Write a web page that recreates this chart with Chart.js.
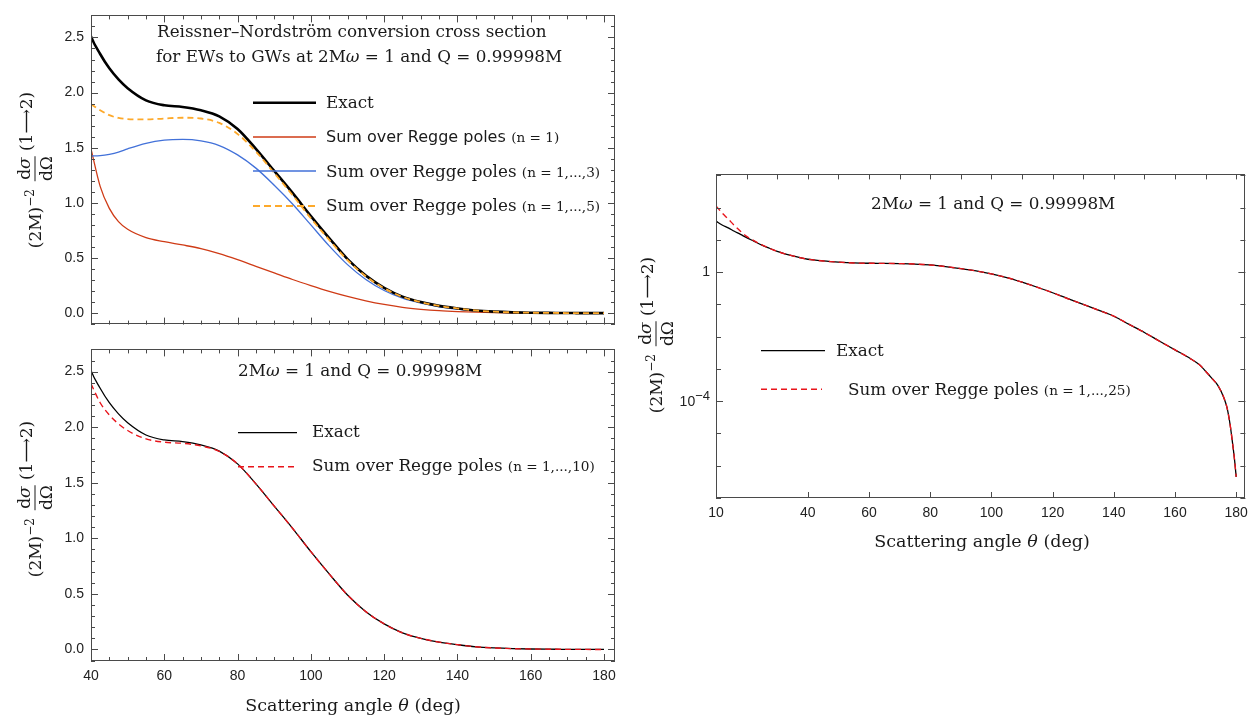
<!DOCTYPE html>
<html><head><meta charset="utf-8">
<script src="https://cdn.jsdelivr.net/npm/chart.js@4.4.1/dist/chart.umd.min.js"></script>
<style>
html,body{margin:0;padding:0;background:#fff;}
#root{position:relative;width:1255px;height:717px;overflow:hidden;background:#fff;}
canvas{position:absolute;}
.t{position:absolute;white-space:nowrap;font-family:"DejaVu Serif",serif;color:#1a1a1a;line-height:1;font-size:16.8px;}
.s{font-family:"DejaVu Sans",sans-serif;font-size:16px;}
.sm{font-size:13.6px;}
.c{transform:translateX(-50%);}
.tk{position:absolute;white-space:nowrap;font-family:"Liberation Sans",Arial,sans-serif;font-size:14px;color:#222;line-height:1;transform:translateX(-100%);}
.tk sup{font-size:13px;position:relative;top:-6px;vertical-align:baseline;}
.yl{position:absolute;display:flex;align-items:center;white-space:nowrap;font-family:"DejaVu Serif",serif;font-size:17px;color:#1a1a1a;transform:translate(-50%,-50%) rotate(-90deg);line-height:1;}
.yl sup{font-size:12px;position:relative;top:-7px;vertical-align:baseline;}
.frac{display:inline-flex;flex-direction:column;align-items:center;margin:0 5px 0 8px;}
.frac .n{border-bottom:1px solid #1a1a1a;padding:0 1px 2px;}
.frac .d{padding-top:2px;}
.yl .r{position:relative;top:-9px;}
svg{position:absolute;left:0;top:0;}
</style></head>
<body><div id="root">
<canvas id="c1" width="630" height="340" style="left:0;top:0"></canvas>
<canvas id="c2" width="630" height="383" style="left:0;top:334px"></canvas>
<canvas id="c3" width="625" height="400" style="left:630px;top:160px"></canvas>

<div class="t" style="left:157px;top:23px">Reissner–Nordström conversion cross section</div>
<div class="t" style="left:156px;top:48px">for EWs to GWs at 2M<i>ω</i> = 1 and Q = 0.99998M</div>
<div class="t" style="left:326px;top:94px">Exact</div>
<div class="t" style="left:326px;top:128px"><span class="s">Sum over Regge poles</span> <span class="sm">(n = 1)</span></div>
<div class="t" style="left:326px;top:163px">Sum over Regge poles <span class="sm">(n = 1,...,3)</span></div>
<div class="t" style="left:326px;top:197px">Sum over Regge poles <span class="sm">(n = 1,...,5)</span></div>

<div class="t" style="left:238px;top:362px">2M<i>ω</i> = 1 and Q = 0.99998M</div>
<div class="t" style="left:312px;top:423px">Exact</div>
<div class="t" style="left:312px;top:457px">Sum over Regge poles <span class="sm">(n = 1,...,10)</span></div>

<div class="t" style="left:871px;top:195px">2M<i>ω</i> = 1 and Q = 0.99998M</div>
<div class="t" style="left:836px;top:342px">Exact</div>
<div class="t" style="left:848px;top:381px">Sum over Regge poles <span class="sm">(n = 1,...,25)</span></div>

<div class="t c" style="left:353px;top:697px;font-size:17.5px">Scattering angle <i>θ</i> (deg)</div>
<div class="t c" style="left:982px;top:533px;font-size:17.5px">Scattering angle <i>θ</i> (deg)</div>

<div class="tk" id="lab1e4" style="left:710px;top:393px">10<sup>−4</sup></div>

<div class="yl" style="left:35px;top:170px"><span>(2M)<sup>−2</sup></span><span class="frac"><span class="n">d<i>σ</i></span><span class="d">dΩ</span></span><span class="r">(1⟶2)</span></div>
<div class="yl" style="left:35px;top:499px"><span>(2M)<sup>−2</sup></span><span class="frac"><span class="n">d<i>σ</i></span><span class="d">dΩ</span></span><span class="r">(1⟶2)</span></div>
<div class="yl" style="left:656px;top:335px"><span>(2M)<sup>−2</sup></span><span class="frac"><span class="n">d<i>σ</i></span><span class="d">dΩ</span></span><span class="r">(1⟶2)</span></div>

<svg width="1255" height="717">
<line x1="253" y1="102.7" x2="316" y2="102.7" stroke="#000" stroke-width="2.6"/>
<line x1="253" y1="137" x2="316" y2="137" stroke="#cf3b16" stroke-width="1.3"/>
<line x1="253" y1="171" x2="316" y2="171" stroke="#4271d9" stroke-width="1.3"/>
<line x1="253" y1="206" x2="316" y2="206" stroke="#fda92b" stroke-width="2" stroke-dasharray="7,4"/>
<line x1="238" y1="432.7" x2="297" y2="432.7" stroke="#000" stroke-width="1.3"/>
<line x1="238" y1="466.7" x2="297" y2="466.7" stroke="#e8141b" stroke-width="1.4" stroke-dasharray="6,4"/>
<line x1="761" y1="350.7" x2="825" y2="350.7" stroke="#000" stroke-width="1.3"/>
<line x1="761" y1="389.3" x2="822" y2="389.3" stroke="#e8141b" stroke-width="1.4" stroke-dasharray="6,4"/>
</svg>
</div>
<script>
// ---------- data ----------
const thetaExact = [10,12,14,16,18,20,22.5,25,27.5,30,32.5,35,37.5,40,42.5,45,47.5,50,55,60,65,70,75,80,85,90,95,100,105,110,115,120,125,130,135,140,145,150,155,160,165,168,170,172,174,176,177,178,179,179.5,180];
const exact = [38,29,23.5,18.5,14.8,11.7,9.0,6.9,5.5,4.4,3.7,3.2,2.8,2.51,2.35,2.22,2.12,2.04,1.93,1.885,1.87,1.84,1.785,1.67,1.49,1.29,1.09,0.88,0.68,0.49,0.34,0.23,0.15,0.1,0.066,0.043,0.024,0.0135,0.0072,0.0039,0.0021,0.00134,0.00085,0.00052,0.00031,0.000126,0.000063,0.000019,0.0000036,0.0000014,0.00000045];
const regge25 = [112,68,44,28,18.5,12.8,9.3,6.95,5.5,4.4,3.7,3.2,2.8,2.51,2.35,2.22,2.12,2.04,1.93,1.885,1.87,1.84,1.785,1.67,1.49,1.29,1.09,0.88,0.68,0.49,0.34,0.23,0.15,0.1,0.066,0.043,0.024,0.0135,0.0072,0.0039,0.0021,0.00134,0.00085,0.00052,0.00031,0.000126,0.000063,0.000019,0.0000036,0.0000014,0.00000045];

const thetaLin = [40,42.5,45,47.5,50,55,60,65,70,75,80,85,90,95,100,105,110,115,120,125,130,135,140,145,150,155,160,165,170,175,180];
const regge1  = [1.49,1.15,0.95,0.83,0.76,0.685,0.648,0.618,0.585,0.54,0.485,0.425,0.365,0.305,0.25,0.198,0.152,0.112,0.079,0.053,0.035,0.022,0.014,0.009,0.0055,0.0035,0.0022,0.0013,0.0007,0.0003,0.00001];
const regge3  = [1.425,1.428,1.44,1.46,1.49,1.54,1.568,1.575,1.562,1.52,1.435,1.315,1.16,0.99,0.80,0.61,0.44,0.305,0.205,0.135,0.09,0.058,0.037,0.022,0.013,0.007,0.0039,0.0021,0.00085,0.0002,0.0000005];
const regge5  = [1.895,1.84,1.795,1.77,1.76,1.757,1.765,1.772,1.765,1.725,1.625,1.465,1.27,1.07,0.86,0.665,0.48,0.335,0.225,0.148,0.099,0.065,0.043,0.024,0.0135,0.0072,0.0039,0.0021,0.00085,0.0002,0.0000005];
const regge10 = [2.39,2.22,2.11,2.03,1.97,1.895,1.865,1.855,1.832,1.782,1.67,1.49,1.29,1.09,0.88,0.68,0.49,0.34,0.23,0.15,0.1,0.066,0.043,0.024,0.0135,0.0072,0.0039,0.0021,0.00085,0.0002,0.00000045];

const xTicksLin = [40,60,80,100,120,140,160,180];
const yTicksLin = [0,0.5,1,1.5,2,2.5];
const xTicksLog = [10,40,60,80,100,120,140,160,180];
const yTicksLog = [1e-7,1e-6,1e-5,1e-4,1e-3,1e-2,1e-1,1,1e1,1e2,1e3];
const yLabelsLog = {"0":"1"};   // 10^-4 label is placed as HTML text (needs a superscript)

// ---------- helpers ----------
const pts = (xs, ys) => xs.map((x, i) => ({x, y: ys[i]}));
const range = (a, b, s) => { const r = []; for (let v = a; v <= b + 1e-9; v += s) r.push(+v.toFixed(6)); return r; };

const framePlugin = {
  id: 'frame',
  afterDatasetsDraw(chart, args, o) {
    const {ctx, chartArea: a} = chart;
    const x = chart.scales.x, y = chart.scales.y;
    ctx.save();
    ctx.strokeStyle = '#4a4a4a'; ctx.lineWidth = 1;
    ctx.beginPath();
    const seg = (x1, y1, x2, y2) => { ctx.moveTo(x1, y1); ctx.lineTo(x2, y2); };
    const px = v => Math.round(x.getPixelForValue(v)) + 0.5;
    const py = v => Math.round(y.getPixelForValue(v)) + 0.5;
    (o.bottom || []).forEach(([v, l]) => { const p = px(v); seg(p, a.bottom, p, a.bottom - l); });
    (o.top || []).forEach(([v, l]) => { const p = px(v); seg(p, a.top, p, a.top + l); });
    (o.left || []).forEach(([v, l]) => { const p = py(v); seg(a.left, p, a.left + l, p); });
    (o.right || []).forEach(([v, l]) => { const p = py(v); seg(a.right, p, a.right - l, p); });
    ctx.stroke();
    ctx.strokeRect(Math.round(a.left) + 0.5, Math.round(a.top) + 0.5, Math.round(a.right - a.left) - 1, Math.round(a.bottom - a.top) - 1);
    ctx.restore();
  }
};
Chart.register(framePlugin);

const tickFont = {family: '"Liberation Sans", Arial, sans-serif', size: 14};
const tickColor = '#222';

function linTicks() {
  const xs = range(40, 180, 5).map(v => [v, xTicksLin.includes(v) ? 7 : 4]);
  const ys = range(-0.1, 2.7, 0.1).map(v => [v, yTicksLin.some(t => Math.abs(t - v) < 1e-6) ? 7 : 4]);
  return {bottom: xs, top: xs, left: ys, right: ys};
}

function lineDs(data, color, width, dash) {
  return {data, borderColor: color, borderWidth: width, borderDash: dash || [], pointRadius: 0,
          fill: false, cubicInterpolationMode: 'monotone', borderCapStyle: 'butt'};
}

function linOptions(showX, padding, xHeight) {
  return {
    responsive: false, animation: false, devicePixelRatio: 1,
    layout: {padding},
    plugins: {legend: {display: false}, tooltip: {enabled: false}, frame: linTicks()},
    scales: {
      x: {type: 'linear', min: 40, max: 183, display: showX,
          afterBuildTicks: s => { s.ticks = xTicksLin.map(v => ({value: v})); },
          afterFit: s => { if (showX) s.height = xHeight; },
          grid: {display: false, drawTicks: false}, border: {display: false},
          ticks: {padding: 7, font: tickFont, color: tickColor, maxRotation: 0, autoSkip: false, callback: v => String(v)}},
      y: {type: 'linear', min: -0.104, max: 2.70,
          afterBuildTicks: s => { s.ticks = yTicksLin.map(v => ({value: v})); },
          afterFit: s => { s.width = 91; },
          grid: {display: false, drawTicks: false}, border: {display: false},
          ticks: {padding: 7, font: tickFont, color: tickColor, autoSkip: false, callback: v => Number(v).toFixed(1)}}
    }
  };
}

// top-left panel
new Chart(document.getElementById('c1'), {
  type: 'line',
  data: {datasets: [
    lineDs(pts(thetaLin, regge5), '#fda92b', 1.8, [6, 4]),
    lineDs(pts(thetaExact, exact), '#000000', 2.6),
    lineDs(pts(thetaLin, regge3), '#4271d9', 1.3),
    lineDs(pts(thetaLin, regge1), '#cf3b16', 1.3)
  ]},
  options: linOptions(false, {left: 0, top: 10, right: 15, bottom: 6}, 0)
});

// bottom-left panel
new Chart(document.getElementById('c2'), {
  type: 'line',
  data: {datasets: [
    lineDs(pts(thetaLin, regge10), '#e8141b', 1.4, [6, 4]),
    lineDs(pts(thetaExact, exact), '#000000', 1.3)
  ]},
  options: linOptions(true, {left: 0, top: 1, right: 15, bottom: 0}, 56)
});

// right panel (log scale)
const logFrame = {
  bottom: xTicksLog.map(v => [v, 6]),
  top: range(10, 180, 10).map(v => [v, 5]),
  left: yTicksLog.map(v => [v, (v === 1 || v === 1e-4) ? 7 : 5]),
  right: yTicksLog.map(v => [v, (v === 1 || v === 1e-4) ? 7 : 5])
};
const c3 = new Chart(document.getElementById('c3'), {
  type: 'line',
  data: {datasets: [
    lineDs(pts(thetaExact, regge25), '#e8141b', 1.4, [6, 4]),
    lineDs(pts(thetaExact, exact), '#000000', 1.3)
  ]},
  options: {
    responsive: false, animation: false, devicePixelRatio: 1,
    layout: {padding: {left: 0, top: 12, right: 7, bottom: 0}},
    plugins: {legend: {display: false}, tooltip: {enabled: false}, frame: logFrame},
    scales: {
      x: {type: 'linear', min: 10, max: 183,
          afterBuildTicks: s => { s.ticks = xTicksLog.map(v => ({value: v})); },
          afterFit: s => { s.height = 62; },
          grid: {display: false, drawTicks: false}, border: {display: false},
          ticks: {padding: 7, font: tickFont, color: tickColor, maxRotation: 0, autoSkip: false, callback: v => String(v)}},
      y: {type: 'logarithmic', min: 1e-7, max: 1070,
          afterBuildTicks: s => { s.ticks = yTicksLog.map(v => ({value: v})); },
          afterFit: s => { s.width = 86; },
          grid: {display: false, drawTicks: false}, border: {display: false},
          ticks: {padding: 6, font: tickFont, color: tickColor, autoSkip: false,
                  callback: v => yLabelsLog[String(Math.round(Math.log10(v)))] || ''}}
    }
  }
});
// place the 10^-4 label at the scale's own pixel for 1e-4
(function () {
  const el = document.getElementById('lab1e4');
  const yPix = c3.scales.y.getPixelForValue(1e-4) + 160;
  const xPix = c3.chartArea.left + 630 - 6;
  el.style.left = xPix + 'px';
  el.style.top = (yPix - 7) + 'px';
})();
</script>
</body></html>
